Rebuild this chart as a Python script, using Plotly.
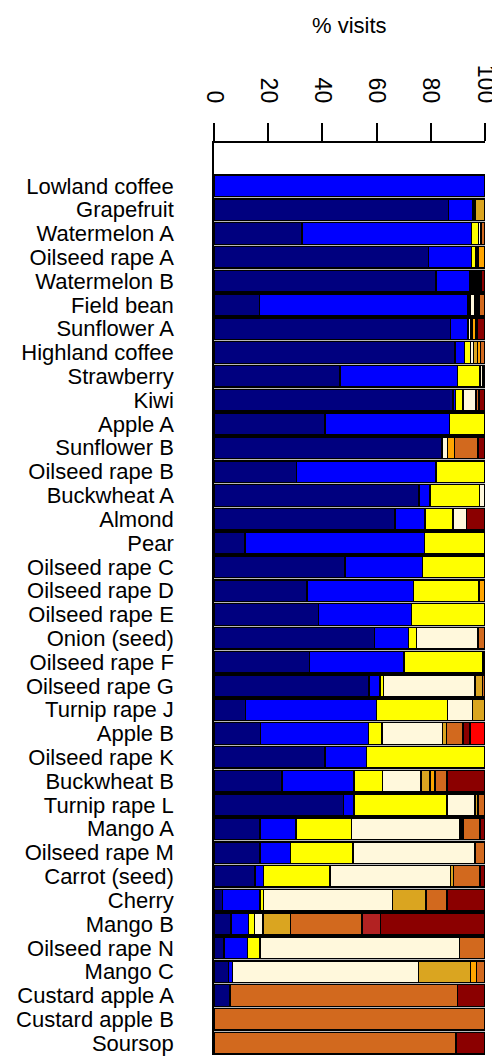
import plotly.graph_objects as go

categories = ["Lowland coffee", "Grapefruit", "Watermelon A", "Oilseed rape A", "Watermelon B",
              "Field bean", "Sunflower A", "Highland coffee", "Strawberry", "Kiwi", "Apple A",
              "Sunflower B", "Oilseed rape B", "Buckwheat A", "Almond", "Pear", "Oilseed rape C",
              "Oilseed rape D", "Oilseed rape E", "Onion (seed)", "Oilseed rape F", "Oilseed rape G",
              "Turnip rape J", "Apple B", "Oilseed rape K", "Buckwheat B", "Turnip rape L", "Mango A",
              "Oilseed rape M", "Carrot (seed)", "Cherry", "Mango B", "Oilseed rape N", "Mango C",
              "Custard apple A", "Custard apple B", "Soursop"]

navy = [0, 86.5, 32.5, 79.2, 81.9, 16.7, 87.3, 89.0, 46.5, 88.2, 41.0, 84.2, 30.5, 75.6, 66.8, 11.4,
        48.3, 34.4, 38.5, 59.2, 35.2, 57.2, 11.7, 17.2, 41.0, 25.0, 47.7, 17.0, 17.0, 15.1, 3.2, 6.3,
        3.7, 5.3, 5.9, 0, 0]
blue = [100, 9.0, 62.6, 15.9, 12.3, 77.1, 6.5, 3.4, 43.3, 0.9, 45.9, 0, 51.4, 4.1, 11.1, 66.2,
        28.7, 39.2, 34.4, 12.6, 34.9, 4.1, 48.3, 39.9, 15.3, 26.7, 4.0, 13.3, 11.3, 3.1, 13.8, 6.4,
        8.6, 1.5, 0, 0, 0]
yellow = [0, 0, 2.5, 1.5, 0, 0.6, 0, 2.2, 8.3, 2.8, 13.1, 0, 18.1, 18.2, 10.2, 22.4,
          23.0, 24.1, 27.1, 3.0, 29.2, 1.2, 26.2, 4.8, 43.7, 10.5, 34.2, 20.5, 22.9, 24.6, 1.2, 2.2,
          4.7, 0, 0, 0, 0]
cream = [0, 0, 1.0, 0.8, 0, 1.8, 0.8, 1.2, 1.2, 4.8, 0, 2.0, 0, 2.1, 5.1, 0,
         0, 0, 0, 22.7, 0, 33.9, 9.2, 22.5, 0, 14.2, 10.4, 39.7, 45.1, 44.5, 47.7, 3.1,
         73.5, 68.6, 0, 0, 0]
black = [0, 1.0, 0, 0, 4.3, 1.6, 0, 0, 0.7, 0, 0, 0, 0, 0, 0, 0,
         0, 0, 0, 0, 0.7, 0, 0, 0, 0, 0, 0, 1.5, 0, 0, 0, 0,
         0, 0, 0, 0, 0]
goldenrod = [0, 3.5, 0, 0, 0, 0, 0.6, 1.4, 0, 0, 0, 0, 0, 0, 0, 0,
             0, 0, 0, 0, 0, 2.6, 4.6, 1.4, 0, 3.3, 1.2, 0, 0, 1.1, 12.3, 10.3,
             0, 19.3, 0, 0, 0]
orange = [0, 0, 0, 2.6, 0, 0, 1.4, 1.2, 0, 0, 0, 2.5, 0, 0, 0, 0,
          0, 2.3, 0, 0, 0, 0, 0, 0, 0, 1.8, 0, 0, 0, 0, 0, 0,
          0, 2.2, 0, 0, 0]
chocolate = [0, 0, 1.4, 0, 0, 2.2, 0.6, 1.6, 0, 1.1, 0, 8.8, 0, 0, 0, 0,
             0, 0, 0, 2.5, 0, 1.0, 0, 6.0, 0, 4.4, 2.5, 6.2, 3.7, 9.8, 7.7, 26.4,
             9.5, 3.1, 84.0, 100, 89.3]
firebrick = [0, 0, 0, 0, 0, 0, 0, 0, 0, 0, 0, 0, 0, 0, 0, 0,
             0, 0, 0, 0, 0, 0, 0, 0, 0, 0, 0, 0, 0, 0, 0, 6.7,
             0, 0, 0, 0, 0]
darkred = [0, 0, 0, 0, 1.5, 0, 2.8, 0, 0, 2.2, 0, 2.5, 0, 0, 6.8, 0,
           0, 0, 0, 0, 0, 0, 0, 2.6, 0, 14.1, 0, 1.8, 0, 1.8, 14.1, 38.6,
           0, 0, 10.1, 0, 10.7]
red = [0, 0, 0, 0, 0, 0, 0, 0, 0, 0, 0, 0, 0, 0, 0, 0,
       0, 0, 0, 0, 0, 0, 0, 5.6, 0, 0, 0, 0, 0, 0, 0, 0,
       0, 0, 0, 0, 0]

tick_vals = [0, 20, 40, 60, 80, 100]

series = [
    ("navy", navy, "#00007F"),
    ("blue", blue, "#0000FF"),
    ("yellow", yellow, "#FFFF00"),
    ("cream", cream, "#FFF8DC"),
    ("black", black, "#000000"),
    ("goldenrod", goldenrod, "#DAA520"),
    ("orange", orange, "#FFA500"),
    ("chocolate", chocolate, "#D2691E"),
    ("firebrick", firebrick, "#B22222"),
    ("darkred", darkred, "#8B0000"),
    ("red", red, "#FF0000"),
]

FONT = "Liberation Sans, Arial, Helvetica, sans-serif"

fig = go.Figure()
for name, vals, color in series:
    fig.add_trace(go.Bar(
        y=categories,
        x=[v if v else None for v in vals],
        orientation="h",
        name=name,
        marker=dict(color=color, line=dict(color="black", width=1.5)),
        showlegend=False,
    ))

n = len(categories)
fig.add_shape(type="rect", xref="x", yref="y", x0=0, x1=100, y0=-0.45, y1=n - 1 + 0.45,
              fillcolor="#b8b8b8", line=dict(width=0), layer="below")

# page body has an 8px default margin, so the figure is 8px smaller and shifted
fig.update_layout(
    width=492, height=1050,
    margin=dict(l=206, r=15, t=135, b=3, autoexpand=False),
    barmode="stack",
    bargap=0.09,
    plot_bgcolor="white",
    paper_bgcolor="white",
    font=dict(family=FONT, color="black"),
    xaxis=dict(
        side="top", range=[0, 100], tickmode="array", tickvals=tick_vals,
        ticktext=[str(t) for t in tick_vals],
        ticks="outside", ticklen=18, tickwidth=1.5, tickcolor="black",
        tickangle=90, tickfont=dict(size=23, family=FONT, color="black"),
        showline=True, linecolor="black", linewidth=1.5, showgrid=False, zeroline=False,
        ticklabelstandoff=12, automargin=False,
    ),
    yaxis=dict(
        type="category", categoryorder="array", categoryarray=categories,
        tickmode="array", tickvals=categories, ticktext=categories,
        range=[n - 0.5, -1.8],
        showline=True, linecolor="black", linewidth=1.5, showgrid=False, zeroline=False,
        ticks="", tickfont=dict(size=22, family=FONT, color="black"),
        ticklabelstandoff=34, automargin=False,
    ),
    annotations=[dict(text="% visits", xref="paper", yref="paper", x=0.5, y=(912 + 143 - 25 - 8 - 135 + 135) / 912 if False else (1047 - 17) / 912,
                      showarrow=False, font=dict(size=22, family=FONT, color="black"),
                      xanchor="center", yanchor="middle")],
)

fig.write_html("out.html")
